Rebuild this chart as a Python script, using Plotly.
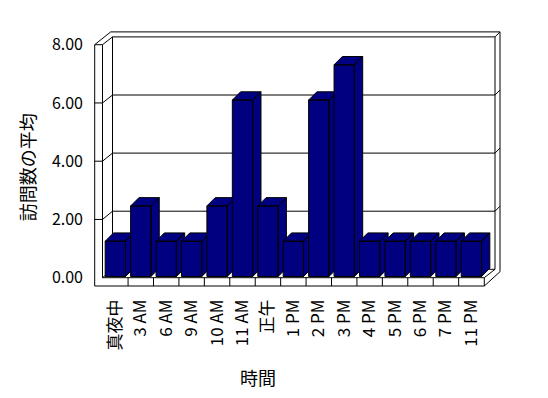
import plotly.graph_objects as go

# ---- data ----
categories = ["真夜中", "3 AM", "6 AM", "9 AM", "10 AM", "11 AM", "正午", "1 PM",
              "2 PM", "3 PM", "4 PM", "5 PM", "6 PM", "7 PM", "11 PM"]
values = [1.2, 2.4, 1.2, 1.2, 2.4, 6.0, 2.4, 1.2, 6.0, 7.2, 1.2, 1.2, 1.2, 1.2, 1.2]
y_ticks = [0, 2, 4, 6, 8]
y_title = "訪問数の平均"
x_title = "時間"

FONT = "Noto Sans CJK JP"
NAVY = "#000080"

# ---- layout geometry (pixel-space helpers for the 3D frame) ----
W, H = 548, 398
ML, MR, MT, MB = 94, 47, 31, 111
XC0, XS = 115.35, 25.43      # category 0 centre / px per category
YC0, YS = 276.5, 29.4        # bar baseline / px per unit


def px_x(px):
    return (px - XC0) / XS


def px_y(py):
    return (YC0 - py) / YS


def paper_x(px):
    return (px - ML) / (W - ML - MR)


def paper_y(py):
    return ((H - MB) - py) / (H - MT - MB)


# frame projection (front plane and back wall)
FRONT0, FS = 277.7, 29.125
BACK0, BS = 269.3, 29.05
LW0, LW1, BW0, BW1, BW2 = 94.7, 102.5, 112.5, 495.0, 500.0
FLOOR_R = 484.3
FLOOR_B = 286.0

segs = []


def seg(*pts):
    segs.append(pts)


vmax = y_ticks[-1]
ytop_f = FRONT0 - FS * vmax
ytop_b = BACK0 - BS * vmax
# left wall
seg((LW0, ytop_f), (LW1, ytop_f), (LW1, FRONT0))
seg((LW0, ytop_f), (LW0, FLOOR_B), (FLOOR_R, FLOOR_B), (FLOOR_R, FRONT0), (LW1, FRONT0))
seg((LW0, ytop_f), (BW0 - 1.8, ytop_b - 5), (BW2, ytop_b - 5), (BW2, BACK0 + 2.4), (FLOOR_R, FLOOR_B))
seg((LW1, ytop_f), (BW0, ytop_b), (BW1, ytop_b), (BW2, ytop_b - 5))
seg((BW0, ytop_b), (BW0, BACK0), (BW1, BACK0), (BW1, ytop_b))
seg((FLOOR_R, FRONT0), (BW1, BACK0))
seg((LW1, FRONT0), (BW0, BACK0))
# gridlines
for v in y_ticks[1:-1]:
    yf = FRONT0 - FS * v
    yb = BACK0 - BS * v
    seg((LW0, yf), (LW1, yf), (BW0, yb), (BW1, yb), (BW2, yb - 5))
# category dividers on floor front
for k in range(1, len(categories)):
    xp = XC0 + XS * (k - 0.5)
    seg((xp, FRONT0), (xp, FLOOR_B))

fx, fy = [], []
for s in segs:
    for (a, b) in s:
        fx.append(px_x(a))
        fy.append(px_y(b))
    fx.append(None)
    fy.append(None)

fig = go.Figure()
fig.add_trace(go.Scatter(x=fx, y=fy, mode="lines", line=dict(color="black", width=1),
                         hoverinfo="skip", showlegend=False))

# ---- 3D bars ----
HW = 0.4
DDX = 8.3 / XS
DDY = 8.3 / YS
for i, v in enumerate(values):
    l, r = i - HW, i + HW
    xs = [r, r, r + DDX, r + DDX, r, None,
          l, r, r + DDX, l + DDX, l, None,
          l, r, r, l, l]
    ys = [0, v, v + DDY, DDY, 0, None,
          v, v, v + DDY, v + DDY, v, None,
          0, 0, v, v, 0]
    fig.add_trace(go.Scatter(x=xs, y=ys, mode="lines", fill="toself", fillcolor=NAVY,
                             line=dict(color="black", width=1), hoverinfo="skip",
                             showlegend=False))

# dummy trace for the front value axis
fig.add_trace(go.Scatter(x=[0, 0], y=[y_ticks[0], y_ticks[-1]], yaxis="y2", mode="markers",
                         marker=dict(opacity=0), hoverinfo="skip", showlegend=False))

fig.update_layout(
    width=W, height=H, autosize=False,
    margin=dict(l=ML, r=MR, t=MT, b=MB, pad=0),
    paper_bgcolor="white", plot_bgcolor="white",
    font=dict(family=FONT, color="black"),
    xaxis=dict(range=[px_x(ML), px_x(W - MR)], tickmode="array",
               tickvals=list(range(len(categories))), ticktext=categories,
               tickangle=-90, showgrid=False, zeroline=False, showline=False,
               ticks="", ticklabelstandoff=8,
               tickfont=dict(size=17, family=FONT, color="black")),
    yaxis=dict(range=[px_y(H - MB), px_y(MT)], visible=False, showgrid=False, zeroline=False),
    yaxis2=dict(overlaying="y", side="left",
                range=[(FRONT0 - (H - MB)) / FS, (FRONT0 - MT) / FS],
                tickmode="array", tickvals=y_ticks,
                ticktext=[f"{t:.2f}" for t in y_ticks],
                showgrid=False, zeroline=False, showline=False, ticks="",
                ticklabelstandoff=10, tickfont=dict(size=16, family=FONT, color="black")),
    annotations=[
        dict(text=y_title, x=paper_x(26.7), y=paper_y(167.5), xref="paper", yref="paper",
             textangle=-90, showarrow=False, xanchor="center", yanchor="middle",
             font=dict(size=18, family=FONT, color="black")),
        dict(text=x_title, x=paper_x(258), y=paper_y(377), xref="paper", yref="paper",
             showarrow=False, xanchor="center", yanchor="middle",
             font=dict(size=18, family=FONT, color="black")),
    ],
)

fig.write_html("out.html")
